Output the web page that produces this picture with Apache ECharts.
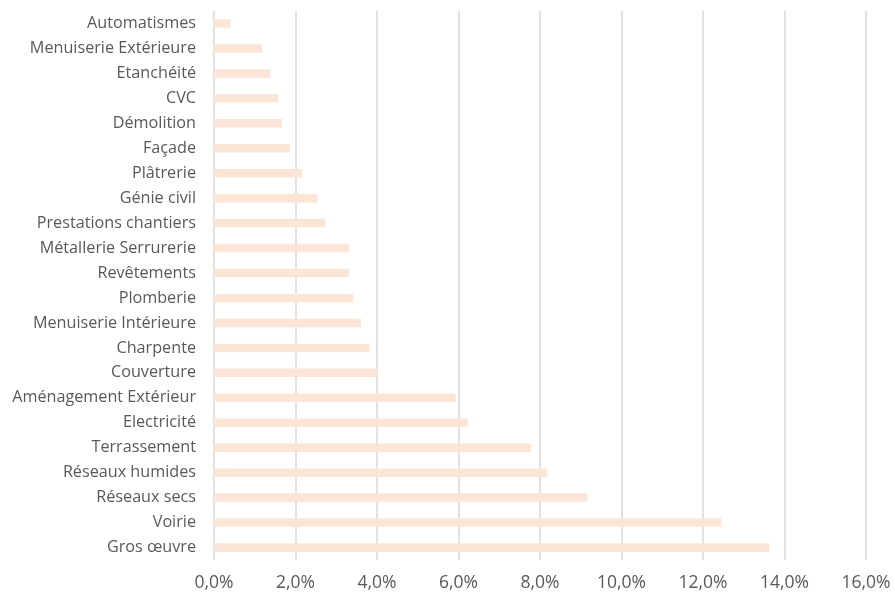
<!DOCTYPE html>
<html>
<head>
<meta charset="utf-8">
<script src="https://cdn.jsdelivr.net/npm/echarts@6/dist/echarts.min.js"></script>
<style>html,body{margin:0;padding:0;background:#fff}#c{width:895px;height:597px}</style>
</head>
<body>
<div id="c"></div>
<script>
const categories = ["Gros œuvre","Voirie","Réseaux secs","Réseaux humides","Terrassement","Electricité","Aménagement Extérieur","Couverture","Charpente","Menuiserie Intérieure","Plomberie","Revêtements","Métallerie Serrurerie","Prestations chantiers","Génie civil","Plâtrerie","Façade","Démolition","CVC","Etanchéité","Menuiserie Extérieure","Automatismes"];
const values = [13.63,12.45,9.16,8.18,7.78,6.23,5.93,4.00,3.81,3.61,3.42,3.31,3.32,2.73,2.54,2.16,1.86,1.67,1.57,1.38,1.18,0.40];
const xTicks = {min:0, max:16, interval:2};

const chart = echarts.init(document.getElementById('c'));
const fontFamily = '"Open Sans", sans-serif';
chart.setOption({
  animation:false,
  backgroundColor:'#fff',
  grid:{left:214, right:29, top:11, bottom:37, containLabel:false},
  xAxis:{
    type:'value', min:xTicks.min, max:xTicks.max, interval:xTicks.interval,
    axisLine:{show:false}, axisTick:{show:false},
    splitLine:{show:true, lineStyle:{color:'#d9d9d9', width:1.5}},
    axisLabel:{color:'#595959', fontSize:17.5, fontFamily, margin:14,
      formatter:v=>v.toFixed(1).replace('.',',')+'%'}
  },
  yAxis:{
    type:'category', data:categories,
    axisLine:{show:false}, axisTick:{show:false},
    axisLabel:{color:'#595959', fontSize:16.2, fontFamily, margin:18}
  },
  series:[{type:'bar', data:values, barWidth:8.5, itemStyle:{color:'#FBE5D6'}}]
});
</script>
</body>
</html>
